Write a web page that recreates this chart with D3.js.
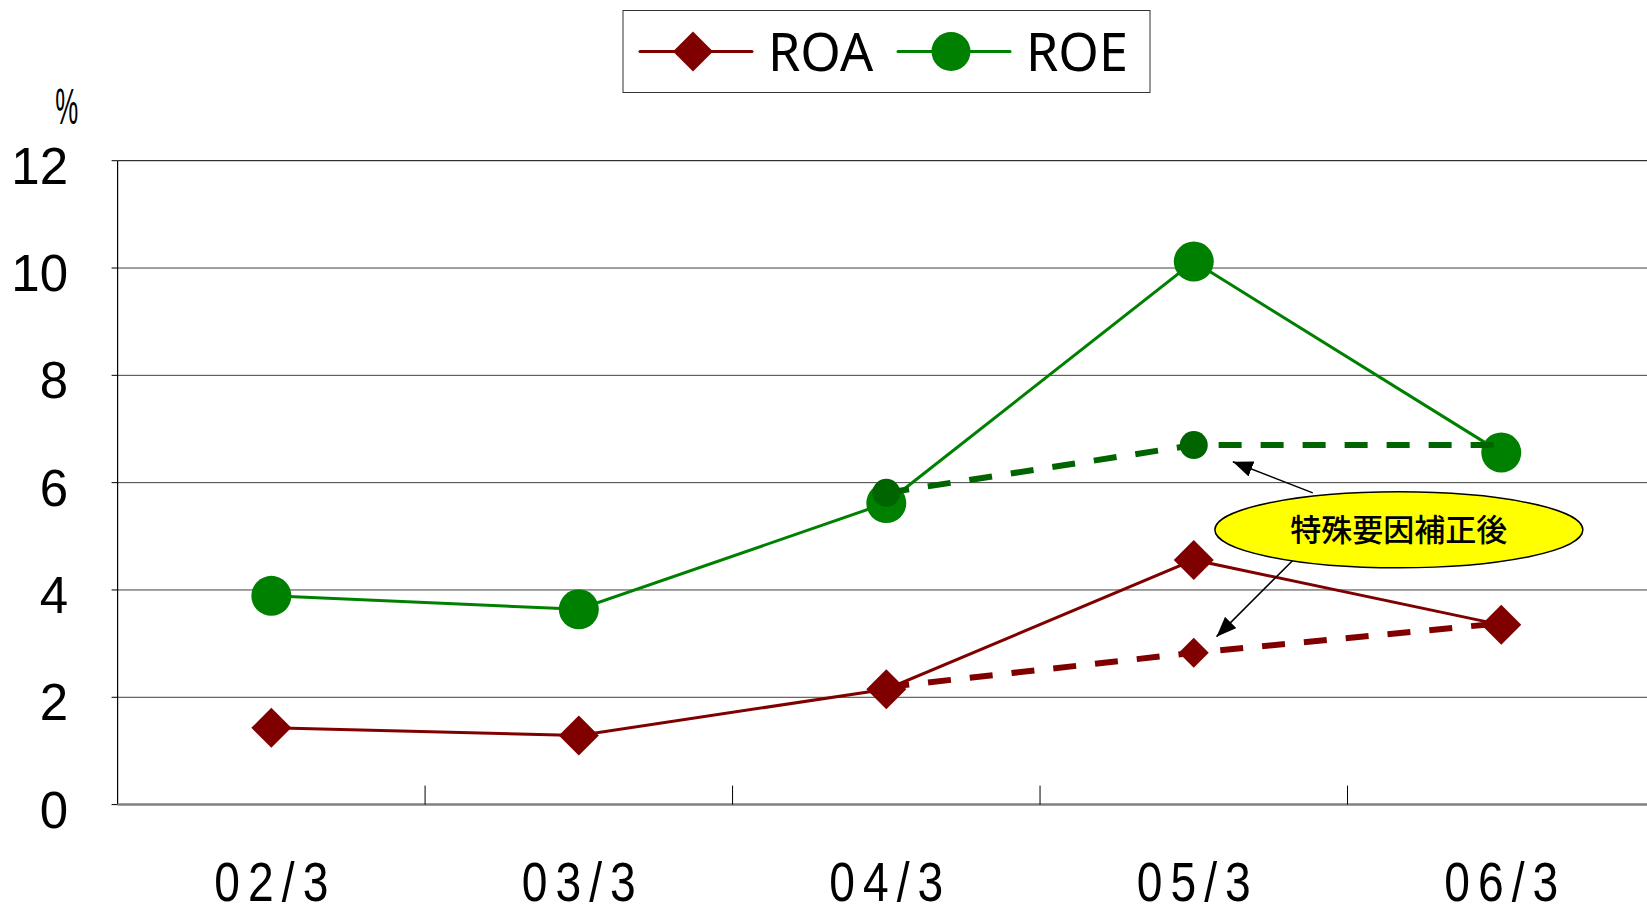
<!DOCTYPE html>
<html>
<head>
<meta charset="utf-8">
<script src="https://cdn.jsdelivr.net/npm/d3@7"></script>
<style>
    body { margin: 0; background: #fff; }
    svg { display: block; }
</style>
</head>
<body>
<svg id="chart" width="1647" height="907"></svg>
<script>
// Chart data
const categories = ["02/3", "03/3", "04/3", "05/3", "06/3"];
const roa = [1.43, 1.29, 2.15, 4.56, 3.35];
const roe = [3.89, 3.64, 5.62, 10.12, 6.56];

// 特殊要因補正後 (adjusted), from 04/3 on
const adjCategories = ["04/3", "05/3", "06/3"];
const roaAdj = [2.19, 2.83, 3.38];
const roeAdj = [5.81, 6.70, 6.70];

const yTicks = [0, 2, 4, 6, 8, 10, 12];
const seriesNames = ["ROA", "ROE"];
const calloutText = "特殊要因補正後";

(function () {
    const svg = d3.select("#chart");

    const left = 117.6, right = 1655, top = 160.7, bottom = 804.6;
    const red = "#800000", green = "#008000", darkGreen = "#006400";

    const x = d3.scaleBand().domain(categories).range([left, right]);
    const cx = c => x(c) + x.bandwidth() / 2;
    // index scale for annotation placement between categories
    const xi = d3.scaleLinear().domain([-0.5, categories.length - 0.5]).range([left, right]);
    const y = d3.scaleLinear().domain([0, 12]).range([bottom, top]);

    // Gridlines
    svg.append("g")
        .selectAll("line")
        .data(yTicks.filter(v => v > 0))
        .join("line")
        .attr("x1", left).attr("x2", 1647)
        .attr("y1", d => y(d)).attr("y2", d => y(d))
        .attr("stroke", d => d === 12 ? "#000" : "#404040")
        .attr("stroke-width", 1);

    // Y axis
    svg.append("line")
        .attr("x1", left).attr("x2", left)
        .attr("y1", top).attr("y2", bottom)
        .attr("stroke", "#000").attr("stroke-width", 1.2);

    svg.append("g")
        .selectAll("line")
        .data(yTicks)
        .join("line")
        .attr("x1", left - 6).attr("x2", left)
        .attr("y1", d => y(d)).attr("y2", d => y(d))
        .attr("stroke", "#000");

    svg.append("g")
        .selectAll("text")
        .data(yTicks)
        .join("text")
        .attr("x", 68)
        .attr("y", d => y(d) + 23)
        .attr("text-anchor", "end")
        .attr("font-family", "Liberation Sans, Arial, sans-serif")
        .attr("font-size", 51)
        .attr("fill", "#000")
        .text(d => d);

    svg.append("text")
        .attr("x", 66.7).attr("y", 124)
        .attr("text-anchor", "middle")
        .attr("font-family", "Liberation Sans, Arial, sans-serif")
        .attr("font-size", 50)
        .attr("textLength", 23)
        .attr("lengthAdjust", "spacingAndGlyphs")
        .text("%");

    // X axis
    svg.append("line")
        .attr("x1", left).attr("x2", 1647)
        .attr("y1", bottom).attr("y2", bottom)
        .attr("stroke", "#808080").attr("stroke-width", 2.5);

    svg.append("g")
        .selectAll("line")
        .data(categories.slice(1))
        .join("line")
        .attr("x1", d => x(d)).attr("x2", d => x(d))
        .attr("y1", bottom - 19).attr("y2", bottom)
        .attr("stroke", "#000");

    // slightly condensed glyphs, spread out to the label width
    const squeeze = 0.84;
    svg.append("g")
        .selectAll("text")
        .data(categories)
        .join("text")
        .attr("transform", d => `translate(${cx(d)},901) scale(${squeeze},1)`)
        .attr("text-anchor", "middle")
        .attr("font-family", "Liberation Sans, Arial, sans-serif")
        .attr("font-size", 55)
        .attr("textLength", 114 / squeeze)
        .attr("lengthAdjust", "spacing")
        .text(d => d);

    const diamond = (s) => `M0,${-s}L${s},0L0,${s}L${-s},0Z`;

    function drawSeries(cats, vals, color, opts) {
        const pts = cats.map((c, i) => [cx(c), y(vals[i])]);
        const g = svg.append("g");
        g.append("path")
            .attr("d", d3.line()(pts))
            .attr("fill", "none")
            .attr("stroke", color)
            .attr("stroke-width", opts.width)
            .attr("stroke-dasharray", opts.dash || null);
        const markPts = opts.skipLast ? pts.slice(0, -1) : pts;
        if (opts.shape === "diamond") {
            g.selectAll(".m").data(markPts).join("path")
                .attr("d", diamond(opts.size))
                .attr("transform", d => `translate(${d[0]},${d[1]})`)
                .attr("fill", color);
        } else {
            g.selectAll(".m").data(markPts).join("circle")
                .attr("cx", d => d[0]).attr("cy", d => d[1])
                .attr("r", opts.size)
                .attr("fill", color);
        }
    }

    drawSeries(categories, roe, green, { width: 3, shape: "circle", size: 20 });
    drawSeries(categories, roa, red, { width: 3, shape: "diamond", size: 20 });
    drawSeries(adjCategories, roeAdj, darkGreen, { width: 6, dash: "23,19", shape: "circle", size: 14, skipLast: true });
    drawSeries(adjCategories, roaAdj, red, { width: 6, dash: "23,19", shape: "diamond", size: 15, skipLast: true });

    // Callout
    svg.append("defs").append("marker")
        .attr("id", "arrow")
        .attr("markerUnits", "userSpaceOnUse")
        .attr("viewBox", "0 0 20 16")
        .attr("refX", 20).attr("refY", 8)
        .attr("markerWidth", 20).attr("markerHeight", 16)
        .attr("orient", "auto")
        .append("path")
        .attr("d", "M0,0L20,8L0,16Z")
        .attr("fill", "#000");

    const arrows = [
        { from: [3.387, 5.81], to: [3.127, 6.39] },
        { from: [3.334, 4.62], to: [3.074, 3.13] }
    ];
    svg.append("g")
        .selectAll("line")
        .data(arrows)
        .join("line")
        .attr("x1", d => xi(d.from[0])).attr("y1", d => y(d.from[1]))
        .attr("x2", d => xi(d.to[0])).attr("y2", d => y(d.to[1]))
        .attr("stroke", "#000").attr("stroke-width", 1.5)
        .attr("marker-end", "url(#arrow)");

    const ellX = xi(3.667), ellY = y(5.12);
    svg.append("ellipse")
        .attr("cx", ellX).attr("cy", ellY)
        .attr("rx", 184).attr("ry", 38)
        .attr("fill", "#ffff00")
        .attr("stroke", "#000").attr("stroke-width", 1.5);
    svg.append("text")
        .attr("x", ellX).attr("y", ellY + 11)
        .attr("text-anchor", "middle")
        .attr("font-family", "Noto Sans CJK JP, sans-serif")
        .attr("font-size", 31)
        .attr("font-weight", 500)
        .text(calloutText);

    // Legend
    const legend = svg.append("g");
    legend.append("rect")
        .attr("x", 623).attr("y", 10.5)
        .attr("width", 527).attr("height", 82)
        .attr("fill", "#fff").attr("stroke", "#333").attr("stroke-width", 1);

    const legendItems = [
        { name: seriesNames[0], color: red, shape: "diamond", x0: 640 },
        { name: seriesNames[1], color: green, shape: "circle", x0: 898 }
    ];
    legendItems.forEach(it => {
        const ly = 51.5;
        legend.append("line")
            .attr("x1", it.x0).attr("x2", it.x0 + 112)
            .attr("y1", ly).attr("y2", ly)
            .attr("stroke", it.color).attr("stroke-width", 3)
            .attr("stroke-linecap", "round");
        if (it.shape === "diamond") {
            legend.append("path")
                .attr("d", diamond(20))
                .attr("transform", `translate(${it.x0 + 53},${ly})`)
                .attr("fill", it.color);
        } else {
            legend.append("circle")
                .attr("cx", it.x0 + 53).attr("cy", ly).attr("r", 19.5)
                .attr("fill", it.color);
        }
        legend.append("text")
            .attr("x", it.x0 + 128).attr("y", ly + 19)
            .attr("font-family", "Noto Sans, sans-serif")
            .attr("font-size", 52)
            .attr("fill", "#000")
            .text(it.name);
    });
})();
</script>
</body>
</html>
